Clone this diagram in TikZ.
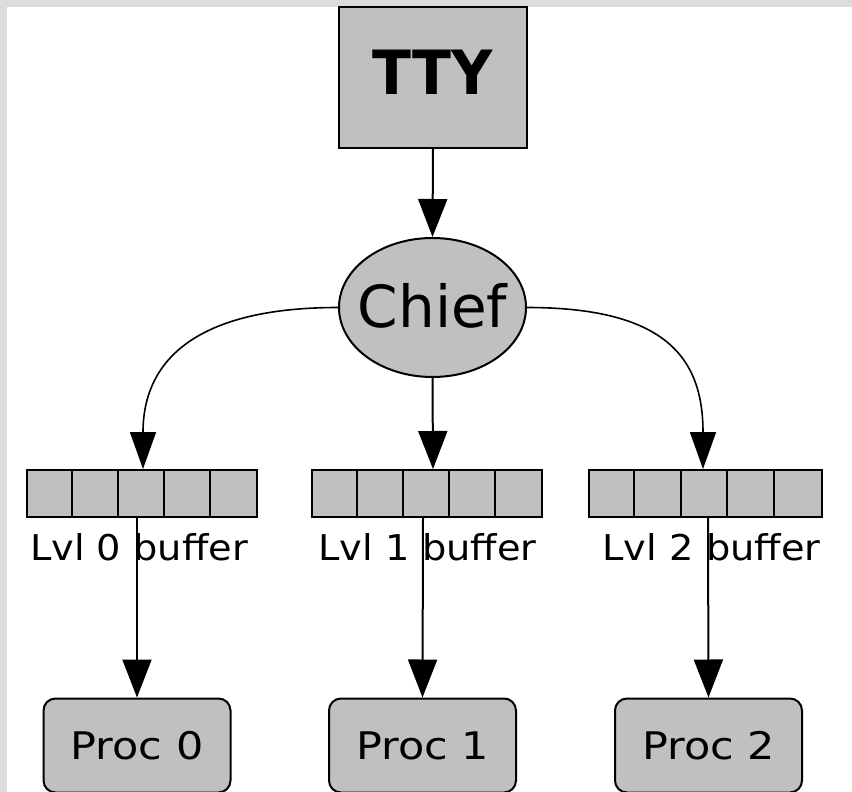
\documentclass[tikz,border=0pt]{standalone}
\usepackage{fontspec}
\setmainfont{DejaVu Sans}
\newfontfamily\ttyfont[FakeStretch=0.935]{DejaVu Sans Bold}
\newfontfamily\procfont[FakeStretch=1.13]{DejaVu Sans}
\newfontfamily\lvlfont[FakeStretch=1.08]{DejaVu Sans}
\usetikzlibrary{arrows.meta,shapes.geometric}
\definecolor{nodegray}{HTML}{C0C0C0}
\definecolor{framegray}{HTML}{DCDCDC}

\begin{document}
\begin{tikzpicture}[x=1pt,y=-1pt,
  shaded/.style={draw=black,fill=nodegray,line width=2pt,inner sep=0pt},
  ttybox/.style={shaded,rectangle,minimum width=188pt,minimum height=141pt,
    text depth=10pt,font=\fontsize{61}{61}\ttyfont},
  chiefnode/.style={shaded,ellipse,minimum width=187pt,minimum height=139pt,
    inner xsep=-10pt,text depth=5pt,font=\fontsize{58}{58}\selectfont},
  bufbox/.style={shaded,rectangle,minimum width=#1,minimum height=47pt},
  bufbox/.default=230pt,
  celldiv/.style={line width=2pt},
  lvllabel/.style={inner sep=0pt,anchor=base,font=\fontsize{35.5}{36}\lvlfont},
  procbox/.style={shaded,rectangle,rounded corners=12pt,minimum width=187pt,
    minimum height=94pt,font=\fontsize{38}{38}\procfont},
  arr/.style={line width=2pt,-{Triangle[length=38pt,width=29pt]}},
  curvearr/.style={line width=1.6pt,-{Triangle[length=37pt,width=26pt]}}
]
\useasboundingbox (0,0) rectangle (852,792);
\fill[white] (0,0) rectangle (852,792);
% window frame along the top and left edges
\fill[framegray] (0,0) rectangle (852,7);
\fill[framegray] (0,0) rectangle (7,792);

\begin{scope}
\clip (7,7) rectangle (852,792);

% terminal and dispatcher
\node[ttybox] (tty) at (433,77.5) {TTY};
\node[chiefnode] (chief) at (432.5,307.5) {Chief};

% the three level buffers, five cells each
\node[bufbox] (b0) at (142,493.5) {};
\node[bufbox] (b1) at (427,493.5) {};
\node[bufbox=233pt] (b2) at (705,493.5) {};
\foreach \i in {1,...,4} {
  \draw[celldiv] ([xshift=\i*46pt]b0.north west) -- ([xshift=\i*46pt]b0.south west);
  \draw[celldiv] ([xshift=\i*46pt]b1.north west) -- ([xshift=\i*46pt]b1.south west);
  \draw[celldiv] ([xshift=\i*46.6pt]b2.north west) -- ([xshift=\i*46.6pt]b2.south west);
}

% buffer captions
\node[lvllabel] (l0) at (139,560) {Lvl 0 buffer};
\node[lvllabel] (l1) at (427.5,560) {Lvl 1 buffer};
\node[lvllabel] (l2) at (711.5,560) {Lvl 2 buffer};

% worker processes
\node[procbox] (p0) at (137,745.5) {Proc 0};
\node[procbox] (p1) at (422.5,745.5) {Proc 1};
\node[procbox] (p2) at (708.5,745.5) {Proc 2};

% connectors
\draw[arr] (tty.south) -- (chief.north);
\draw[curvearr] (chief.west) .. controls +(-140,0) and +(0,-110) .. ([xshift=1pt]b0.north);
\draw[arr] (chief.south) -- ([xshift=6pt]b1.north);
\draw[curvearr] (chief.east) .. controls +(140,0) and +(0,-110) .. ([xshift=-2pt]b2.north);

\draw[arr] ([xshift=-5pt]b0.south) -- (p0.north);
\draw[arr] ([xshift=-4pt]b1.south) -- (p1.north);
\draw[arr] ([xshift=3pt]b2.south) -- (p2.north);
\end{scope}
\end{tikzpicture}
\end{document}
